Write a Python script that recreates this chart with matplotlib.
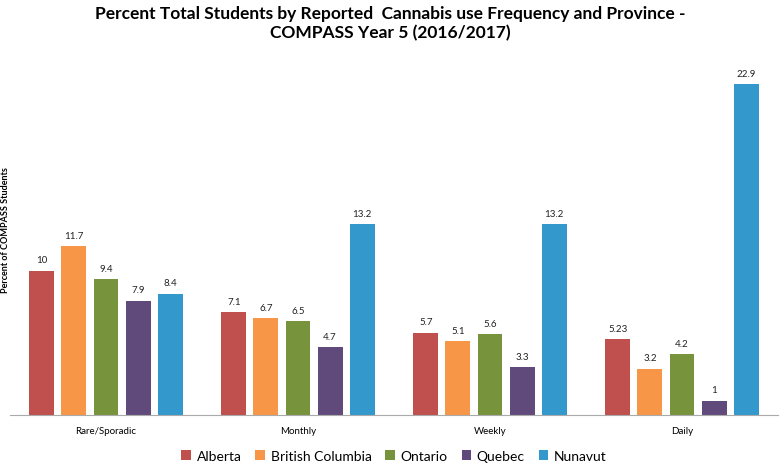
import numpy as np
import matplotlib.pyplot as plt

categories = ["Rare/Sporadic", "Monthly", "Weekly", "Daily"]
provinces = ["Alberta", "British Columbia", "Ontario", "Quebec", "Nunavut"]
alberta = [10, 7.1, 5.7, 5.23]
british_columbia = [11.7, 6.7, 5.1, 3.2]
ontario = [9.4, 6.5, 5.6, 4.2]
quebec = [7.9, 4.7, 3.3, 1]
nunavut = [8.4, 13.2, 13.2, 22.9]
labels = [["10", "7.1", "5.7", "5.23"],
          ["11.7", "6.7", "5.1", "3.2"],
          ["9.4", "6.5", "5.6", "4.2"],
          ["7.9", "4.7", "3.3", "1"],
          ["8.4", "13.2", "13.2", "22.9"]]

series = [alberta, british_columbia, ontario, quebec, nunavut]
colors = ["#C0504D", "#F79646", "#77933C", "#604A7B", "#3399CC"]

plt.rcParams['font.family'] = ['Lato', 'DejaVu Sans']

fig = plt.figure(figsize=(7.8, 4.64), dpi=100)
ax = fig.add_axes([10 / 780, 48 / 464, 768 / 780, (416 - 55) / 464])

x = np.arange(len(categories))
width = 0.13
pitch = 0.167
for i, (vals, name, col) in enumerate(zip(series, provinces, colors)):
    pos = x + (i - 2) * pitch
    ax.bar(pos, vals, width, color=col, label=name)
    for p, v, t in zip(pos, vals, labels[i]):
        ax.text(p, v + 0.45, t, ha="center", va="bottom", fontsize=7, color="#222222")

ax.set_xlim(-0.5, 3.5)
ax.set_ylim(0, 25)
ax.set_yticks([])
ax.set_xticks(x)
ax.set_xticklabels(categories, fontsize=7)
ax.tick_params(axis="x", length=0, pad=8)
for s in ["top", "right", "left"]:
    ax.spines[s].set_visible(False)
ax.spines["bottom"].set_color("#AAAAAA")

fig.text(6 / 780, (464 - 230) / 464, "Percent of COMPASS Students", rotation=90,
         fontsize=6.5, fontweight="bold", ha="center", va="center")

fig.suptitle("Percent Total Students by Reported  Cannabis use Frequency and Province -\nCOMPASS Year 5 (2016/2017)",
             fontsize=12.5, fontweight="bold", y=0.988, linespacing=1.25)

ax.legend(loc="center", bbox_to_anchor=(0.5, -0.114), ncol=5, frameon=False,
          fontsize=10, handlelength=0.7, handleheight=0.7, columnspacing=1.0, handletextpad=0.4)

fig.savefig("out.png", dpi=100)
